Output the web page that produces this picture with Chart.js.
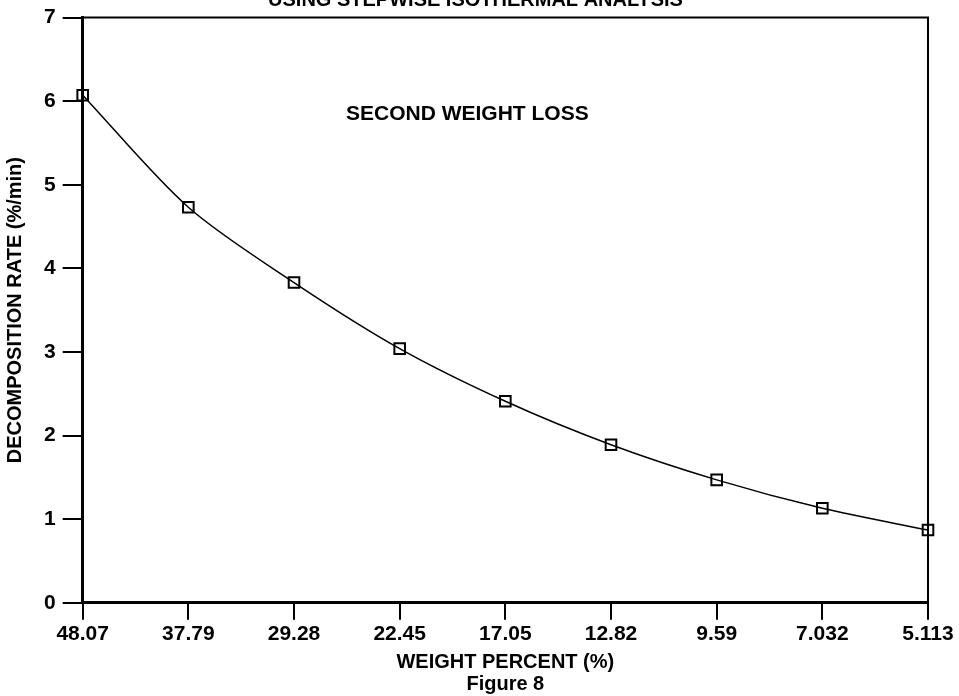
<!DOCTYPE html>
<html>
<head>
<meta charset="utf-8">
<script src="https://cdn.jsdelivr.net/npm/chart.js@4.4.1/dist/chart.umd.min.js"></script>
<style>
  html, body { margin: 0; padding: 0; background: #fff; overflow: hidden; }
  #wrap { width: 959px; height: 696px; }
</style>
</head>
<body>
<div id="wrap"><canvas id="chart"></canvas></div>
<script>
// data
const weightPercent = ['48.07', '37.79', '29.28', '22.45', '17.05', '12.82', '9.59', '7.032', '5.113'];
const decompRate = [6.07, 4.73, 3.83, 3.04, 2.41, 1.89, 1.47, 1.13, 0.87];
const yTicks = [0, 1, 2, 3, 4, 5, 6, 7];

const FONT = 'Liberation Sans, Arial, sans-serif';

// frame + cut-off title + in-plot label
const extras = {
  id: 'extras',
  afterDraw(chart) {
    const { ctx, chartArea: a } = chart;
    ctx.save();
    ctx.strokeStyle = '#000';
    ctx.lineWidth = 2;
    ctx.beginPath();
    ctx.moveTo(a.left, a.top);
    ctx.lineTo(a.right, a.top);
    ctx.lineTo(a.right, a.bottom);
    ctx.stroke();

    ctx.fillStyle = '#000';
    ctx.font = 'bold 20px ' + FONT;
    ctx.textAlign = 'center';
    ctx.textBaseline = 'alphabetic';
    ctx.fillText('USING STEPWISE ISOTHERMAL ANALYSIS', chart.width / 2 - 4, 6);

    ctx.font = 'bold 21px ' + FONT;
    ctx.fillText('SECOND WEIGHT LOSS',
      a.left + (a.right - a.left) * 0.455,
      a.top + (a.bottom - a.top) * 0.175);
    ctx.restore();
  }
};

new Chart(document.getElementById('chart'), {
  type: 'line',
  data: {
    labels: weightPercent,
    datasets: [{
      data: decompRate,
      borderColor: '#000',
      borderWidth: 1.5,
      backgroundColor: 'rgba(0,0,0,0)',
      tension: 0.3,
      pointStyle: 'rect',
      pointRadius: 7.5,
      pointBorderWidth: 2,
      pointBorderColor: '#000',
      pointBackgroundColor: 'rgba(0,0,0,0)'
    }]
  },
  options: {
    responsive: true,
    maintainAspectRatio: false,
    animation: false,
    layout: { padding: { top: 15, left: 3, right: 31, bottom: 1 } },
    plugins: {
      legend: { display: false },
      tooltip: { enabled: false }
    },
    scales: {
      x: {
        type: 'category',
        offset: false,
        border: { color: '#000', width: 3 },
        grid: { drawOnChartArea: false, color: '#000', lineWidth: 2, tickLength: 17 },
        ticks: { color: '#000', font: { family: FONT, size: 21, weight: 'bold' }, padding: 2, maxRotation: 0, autoSkip: false },
        title: {
          display: true,
          text: ['WEIGHT PERCENT (%)', 'Figure 8'],
          color: '#000',
          font: { family: FONT, size: 20, weight: 'bold', lineHeight: 1.1 },
          padding: { top: 2, bottom: 0 }
        }
      },
      y: {
        min: 0,
        max: 7,
        afterBuildTicks(axis) { axis.ticks = yTicks.map(v => ({ value: v })); },
        border: { color: '#000', width: 3 },
        grid: { drawOnChartArea: false, color: '#000', lineWidth: 2, tickLength: 20 },
        ticks: { color: '#000', font: { family: FONT, size: 21, weight: 'bold', lineHeight: 1 }, padding: 7 },
        title: {
          display: true,
          text: 'DECOMPOSITION RATE (%/min)',
          color: '#000',
          font: { family: FONT, size: 20, weight: 'bold' },
          padding: { top: 0, bottom: 10 }
        }
      }
    }
  },
  plugins: [extras]
});
</script>
</body>
</html>
